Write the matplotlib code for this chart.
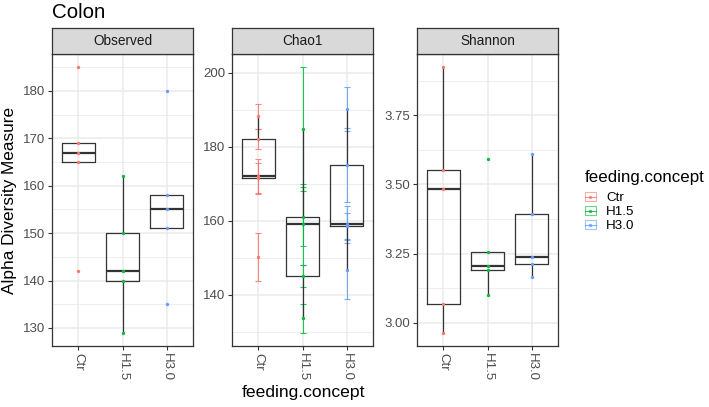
"""Alpha diversity boxplots for the Colon samples, one panel per measure."""

import matplotlib.pyplot as plt
import numpy as np
from matplotlib.lines import Line2D
from matplotlib.patches import Patch

plt.rcParams["font.family"] = ["Liberation Sans", "DejaVu Sans"]

# Data
groups = ["Ctr", "H1.5", "H3.0"]
colors = ["#F8766D", "#00BA38", "#619CFF"]
measures = ["Observed", "Chao1", "Shannon"]

observed = [
    [185, 169, 167, 165, 142],
    [162, 150, 142, 140, 129],
    [180, 158, 155, 151, 135],
]
chao1 = [
    [188.2, 182.1, 172.0, 171.5, 150.2],
    [184.8, 161.1, 159.0, 145.1, 133.6],
    [190.2, 175.0, 159.0, 158.5, 146.7],
]
chao1_se = [
    [3.3, 2.6, 4.8, 4.0, 6.4],
    [16.7, 8.0, 11.0, 2.9, 3.9],
    [6.0, 10.0, 5.0, 3.5, 8.0],
]
shannon = [
    [3.923, 3.553, 3.483, 3.068, 2.964],
    [3.591, 3.255, 3.204, 3.192, 3.099],
    [3.610, 3.394, 3.237, 3.212, 3.166],
]

obs_ticks = [130, 140, 150, 160, 170, 180]
chao_ticks = [140, 160, 180, 200]
shannon_ticks = [3.00, 3.25, 3.50, 3.75]

DARK = "#333333"
GRID = "#EBEBEB"


def draw_panel(ax, vals, ticks, fmt, se=None):
    """Draw coloured points (with optional error bars) and boxplots."""
    lo = min(min(v) for v in vals)
    hi = max(max(v) for v in vals)
    if se is not None:
        lo = min(min(np.array(v) - np.array(s)) for v, s in zip(vals, se))
        hi = max(max(np.array(v) + np.array(s)) for v, s in zip(vals, se))
    pad = (hi - lo) * 0.05
    ylim = (lo - pad, hi + pad)

    for i, (v, c) in enumerate(zip(vals, colors)):
        x = np.full(len(v), i + 1)
        if se is not None:
            ax.errorbar(x, v, yerr=se[i], fmt="none", ecolor=c, alpha=0.85,
                        elinewidth=0.8, capsize=1.9, capthick=0.8, zorder=2)
        ax.plot(x, v, "o", color=c, ms=2.4, mec="none", zorder=4)

    ax.boxplot(
        vals, positions=[1, 2, 3], widths=0.75, whis=1.5,
        showfliers=False, showcaps=False, manage_ticks=False,
        boxprops=dict(color=DARK, lw=0.9),
        whiskerprops=dict(color=DARK, lw=0.9),
        medianprops=dict(color=DARK, lw=1.6),
        zorder=3,
    )

    step = ticks[1] - ticks[0]
    minor = [t - step / 2 for t in ticks] + [ticks[-1] + step / 2]
    minor = [m for m in minor if ylim[0] < m < ylim[1]]

    ax.set_ylim(*ylim)
    ax.set_xlim(0.4, 3.6)
    ax.set_yticks(ticks)
    ax.set_yticklabels([fmt.format(t) for t in ticks])
    ax.set_yticks(minor, minor=True)
    ax.set_xticks([1, 2, 3])
    ax.set_xticklabels(groups, rotation=-90)

    ax.grid(True, which="major", color=GRID, lw=1.1, zorder=0)
    ax.grid(True, which="minor", axis="y", color=GRID, lw=0.6, zorder=0)
    ax.set_axisbelow(True)
    ax.tick_params(which="major", length=3, width=0.8, color=DARK,
                   labelsize=9.5, labelcolor="#4D4D4D", pad=2)
    ax.tick_params(which="minor", length=0)
    for sp in ax.spines.values():
        sp.set_color(DARK)
        sp.set_linewidth(0.9)


W, H = 709, 407
fig = plt.figure(figsize=(W / 100, H / 100), dpi=100)

panel_left = [52, 232, 417]
panel_w = 141
panel_top, panel_bottom = 54, 346
strip_top = 28

data = [observed, chao1, shannon]
tick_sets = [obs_ticks, chao_ticks, shannon_ticks]
fmts = ["{:.0f}", "{:.0f}", "{:.2f}"]
errs = [None, chao1_se, None]

for left, name, vals, ticks, fmt, se in zip(panel_left, measures, data, tick_sets, fmts, errs):
    ax = fig.add_axes([left / W, (H - panel_bottom) / H, panel_w / W,
                       (panel_bottom - panel_top) / H])
    draw_panel(ax, vals, ticks, fmt, se)

    # facet strip
    sax = fig.add_axes([left / W, (H - panel_top) / H, panel_w / W,
                        (panel_top - strip_top) / H])
    sax.set_facecolor("#D9D9D9")
    sax.set_xticks([])
    sax.set_yticks([])
    for sp in sax.spines.values():
        sp.set_color(DARK)
        sp.set_linewidth(0.9)
    sax.text(0.5, 0.5, name, ha="center", va="center", fontsize=9.8,
             color="#1A1A1A", transform=sax.transAxes)

fig.text(52 / W, 1 - 12 / H, "Colon", fontsize=14.8, ha="left", va="center")
fig.text(10 / W, 1 - 200 / H, "Alpha Diversity Measure", fontsize=12.4,
         rotation=90, ha="center", va="center")
fig.text(304 / W, 1 - 392 / H, "feeding.concept", fontsize=12.6,
         ha="center", va="center")

# legend: title as its own text, entries below it
fig.text(585 / W, 1 - 178 / H, "feeding.concept", fontsize=12.2,
         ha="left", va="center")
handles = [
    (Patch(facecolor="none", edgecolor=c, alpha=0.6, lw=0.8),
     Line2D([], [], color=c, marker="o", ms=2.4, mec="none", lw=0.8, alpha=0.8))
    for c in colors
]
fig.legend(
    handles, groups, loc="upper left",
    bbox_to_anchor=(585 / W, 1 - 192 / H), frameon=False,
    fontsize=9.6, handlelength=0.8, handleheight=0.6,
    handletextpad=0.8, labelspacing=0.15, borderpad=0, borderaxespad=0,
)

fig.savefig("out.png", dpi=100)
